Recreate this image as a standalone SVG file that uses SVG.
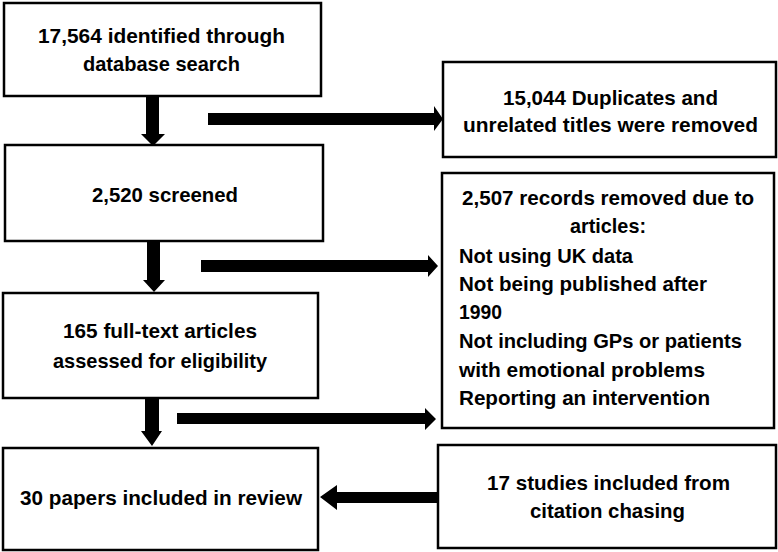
<svg xmlns="http://www.w3.org/2000/svg" width="778" height="552" viewBox="0 0 778 552">
<style>
.box{fill:#fff;stroke:#000;stroke-width:2.5}
.t{font-family:"Liberation Sans",Arial,sans-serif;font-weight:bold;font-size:21px;fill:#000}
.ar{fill:#000;stroke:none}
</style>
<rect width="778" height="552" fill="#fff"/>
<g id="connectors">
<path class="ar" d="M146,97 H159 V134 H165 L153,146 L141,134 H146 Z"/>
<path class="ar" d="M208,113 H434 V106 L443,119 L434,131 V125 H208 Z"/>
<path class="ar" d="M147,241 H160 V280 H165 L154,292 L143,280 H147 Z"/>
<path class="ar" d="M201,260 H428 V255 L438,266 L428,277 V272 H201 Z"/>
<path class="ar" d="M145,398 H159 V431 H162 L152,446 L141,431 H145 Z"/>
<path class="ar" d="M177,413 H425 V408 L436,419 L425,430 V424 H177 Z"/>
<path class="ar" d="M438,492 H337 V485 L320,497 L337,510 V503 H438 Z"/>
</g>
<g id="n1">
<rect class="box" x="4" y="3" width="317" height="93"/>
<text class="t" x="38" y="43" textLength="247" lengthAdjust="spacingAndGlyphs">17,564 identified through</text>
<text class="t" x="83" y="71" textLength="157" lengthAdjust="spacingAndGlyphs">database search</text>
</g>
<g id="n2">
<rect class="box" x="443" y="62" width="333" height="95"/>
<text class="t" x="503" y="105" textLength="215" lengthAdjust="spacingAndGlyphs">15,044 Duplicates and</text>
<text class="t" x="463" y="132" textLength="295" lengthAdjust="spacingAndGlyphs">unrelated titles were removed</text>
</g>
<g id="n3">
<rect class="box" x="5" y="145" width="318" height="96"/>
<text class="t" x="92" y="202" textLength="146" lengthAdjust="spacingAndGlyphs">2,520 screened</text>
</g>
<g id="n4">
<rect class="box" x="442" y="173" width="332" height="255"/>
<text class="t" x="462" y="205" textLength="292" lengthAdjust="spacingAndGlyphs">2,507 records removed due to</text>
<text class="t" x="570" y="233" textLength="76" lengthAdjust="spacingAndGlyphs">articles:</text>
<text class="t" x="459" y="263" textLength="174" lengthAdjust="spacingAndGlyphs">Not using UK data</text>
<text class="t" x="459" y="291" textLength="248" lengthAdjust="spacingAndGlyphs">Not being published after</text>
<text class="t" x="459" y="319" textLength="43" lengthAdjust="spacingAndGlyphs">1990</text>
<text class="t" x="459" y="348" textLength="283" lengthAdjust="spacingAndGlyphs">Not including GPs or patients</text>
<text class="t" x="459" y="377" textLength="246" lengthAdjust="spacingAndGlyphs">with emotional problems</text>
<text class="t" x="459" y="405" textLength="251" lengthAdjust="spacingAndGlyphs">Reporting an intervention</text>
</g>
<g id="n5">
<rect class="box" x="3" y="293" width="315" height="105"/>
<text class="t" x="63" y="338" textLength="194" lengthAdjust="spacingAndGlyphs">165 full-text articles</text>
<text class="t" x="53" y="368" textLength="214" lengthAdjust="spacingAndGlyphs">assessed for eligibility</text>
</g>
<g id="n6">
<rect class="box" x="3" y="448" width="315" height="102"/>
<text class="t" x="20" y="505" textLength="282" lengthAdjust="spacingAndGlyphs">30 papers included in review</text>
</g>
<g id="n7">
<rect class="box" x="438" y="445" width="338" height="103"/>
<text class="t" x="487" y="490" textLength="243" lengthAdjust="spacingAndGlyphs">17 studies included from</text>
<text class="t" x="530" y="518" textLength="155" lengthAdjust="spacingAndGlyphs">citation chasing</text>
</g>
</svg>
